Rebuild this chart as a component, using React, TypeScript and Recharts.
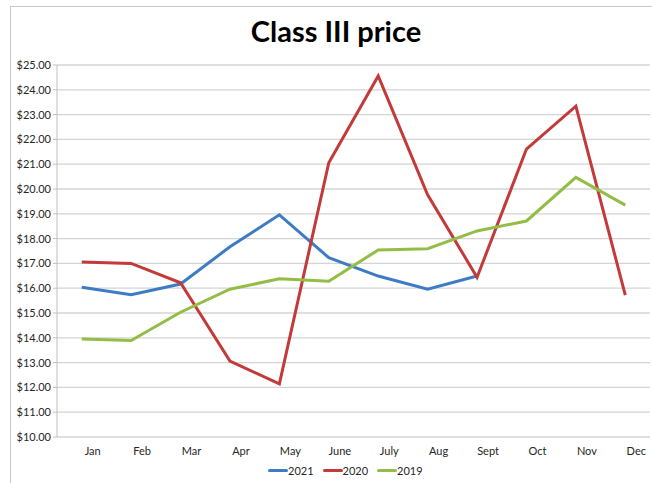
import { CartesianGrid, Line, LineChart, XAxis, YAxis } from "recharts"

const months = ["Jan", "Feb", "Mar", "Apr", "May", "June", "July", "Aug", "Sept", "Oct", "Nov", "Dec"]
const price2021 = [16.04, 15.74, 16.17, 17.67, 18.96, 17.23, 16.49, 15.96, 16.49, null, null, null]
const price2020 = [17.06, 17.0, 16.22, 13.06, 12.14, 21.06, 24.56, 19.77, 16.44, 21.61, 23.34, 15.72]
const price2019 = [13.95, 13.89, 15.03, 15.96, 16.38, 16.28, 17.54, 17.59, 18.31, 18.71, 20.47, 19.35]
const yTicks = [10, 11, 12, 13, 14, 15, 16, 17, 18, 19, 20, 21, 22, 23, 24, 25]
const boundaryTicks = [0, 1, 2, 3, 4, 5, 6, 7, 8, 9, 10, 11, 12]

const series = [
  { key: "y2021", name: "2021", color: "#3d7cc4" },
  { key: "y2020", name: "2020", color: "#c23a3a" },
  { key: "y2019", name: "2019", color: "#93bd46" },
]

const data = months.map((m, i) => ({
  month: m,
  y2021: price2021[i],
  y2020: price2020[i],
  y2019: price2019[i],
}))

const font = "Lato, 'Open Sans', sans-serif"
const axisGrey = "#bfbfbf"

export default function App() {
  return (
    <div
      style={{
        position: "fixed",
        left: 0,
        top: 0,
        width: 652,
        height: 483,
        overflow: "hidden",
        background: "#fff",
        fontFamily: font,
      }}
    >
      <div
        style={{
          position: "absolute",
          left: 10,
          top: 6,
          width: 700,
          height: 520,
          border: "1px solid #c6c6c6",
        }}
      />
      <div
        style={{
          position: "absolute",
          left: 10,
          width: 652,
          top: 13,
          textAlign: "center",
          fontSize: 29,
          fontWeight: 700,
          color: "#000",
        }}
      >
        Class III price
      </div>

      <div style={{ position: "absolute", left: 0, top: 0 }}>
        <LineChart
          width={652}
          height={483}
          data={data}
          margin={{ top: 65, right: 2, bottom: 0, left: 0 }}
          style={{ overflow: "visible" }}
        >
          <CartesianGrid
            xAxisId="cat"
            stroke="#d4d4d4"
            strokeWidth={1.3}
            vertical={false}
          />
          <XAxis
            xAxisId="bounds"
            type="number"
            domain={[0, 12]}
            ticks={boundaryTicks}
            height={0}
            tick={false}
            tickSize={4}
            stroke={axisGrey}
            axisLine={{ stroke: axisGrey }}
            tickLine={{ stroke: axisGrey }}
          />
          <XAxis
            xAxisId="cat"
            dataKey="month"
            scale="band"
            height={46}
            axisLine={false}
            tickLine={false}
            tickSize={6}
            tickMargin={4}
            interval={0}
            tick={{ fill: "#262626", fontSize: 11, fontFamily: font, dx: 11 }}
          />
          <YAxis
            domain={[10, 25]}
            ticks={yTicks}
            width={57}
            tickSize={4}
            interval={0}
            axisLine={{ stroke: axisGrey }}
            tickLine={{ stroke: axisGrey }}
            tick={{ fill: "#262626", fontSize: 11, fontFamily: font }}
            tickFormatter={(v) => `$${Number(v).toFixed(2)}`}
          />
          {series.map((s) => (
            <Line
              key={s.key}
              xAxisId="cat"
              type="linear"
              dataKey={s.key}
              name={s.name}
              stroke={s.color}
              strokeWidth={3}
              dot={false}
              activeDot={false}
              connectNulls={false}
              isAnimationActive={false}
            />
          ))}
        </LineChart>
      </div>

      <div
        style={{
          position: "absolute",
          top: 464,
          left: 268,
          display: "flex",
          alignItems: "center",
          fontSize: 11,
          color: "#262626",
        }}
      >
        {series.map((s) => (
          <div key={s.key} style={{ display: "flex", alignItems: "center", marginRight: 9 }}>
            <span
              style={{
                display: "inline-block",
                width: 20,
                height: 3,
                borderRadius: 2,
                background: s.color,
              }}
            />
            <span>{s.name}</span>
          </div>
        ))}
      </div>
    </div>
  )
}
